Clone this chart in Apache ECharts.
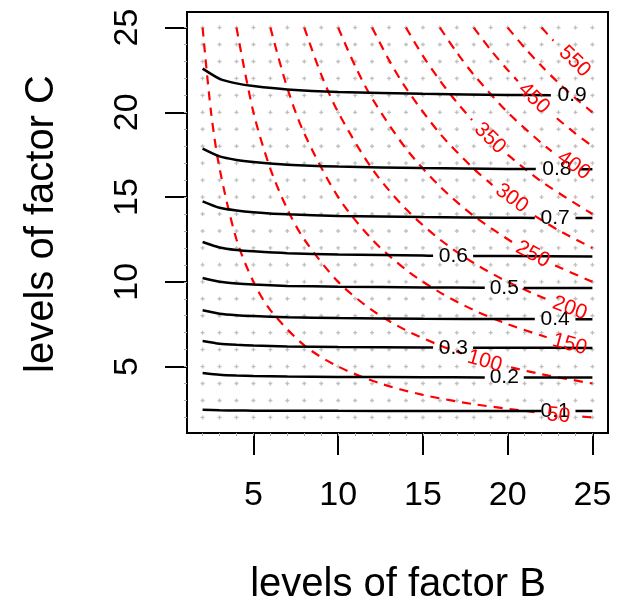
<!DOCTYPE html>
<html>
<head>
<meta charset="UTF-8">
<title>levels of factor B / C</title>
<script src="https://cdn.jsdelivr.net/npm/echarts@6/dist/echarts.min.js"></script>
<style>
  html, body { margin: 0; padding: 0; background: #fff; }
  #main { width: 624px; height: 601px; }
</style>
</head>
<body>
<div id="main"></div>
<script>
// tick labels
var xTicks = [5, 10, 15, 20, 25];
var yTicks = [5, 10, 15, 20, 25];
// design grid (grey dots)
var gridB = [2,3,4,5,6,7,8,9,10,11,12,13,14,15,16,17,18,19,20,21,22,23,24,25];
var gridC = [2,3,4,5,6,7,8,9,10,11,12,13,14,15,16,17,18,19,20,21,22,23,24,25];

// black contours (power), null = label gap
var powerLevels = ['0.1', '0.2', '0.3', '0.4', '0.5', '0.6', '0.7', '0.8', '0.9'];
var p01 = [[2,2.45],[3,2.42],[4,2.41],[5,2.40],[7,2.40],[10,2.39],[15,2.38],[20,2.38],[22.0,2.38],null,[24.0,2.38],[25,2.38]];
var p02 = [[2,4.62],[3,4.52],[4,4.47],[5,4.44],[7,4.41],[10,4.39],[15,4.37],[18.65,4.36],null,[20.95,4.36],[25,4.35]];
var p03 = [[2,6.51],[3,6.35],[4,6.28],[5,6.24],[7,6.19],[10,6.15],[15,6.13],[15.6,6.12],null,[17.96,6.11],[20,6.11],[25,6.10]];
var p04 = [[2,8.32],[3,8.12],[4,8.03],[5,7.98],[7,7.91],[10,7.86],[15,7.82],[20,7.80],[21.6,7.80],null,[24.0,7.79],[25,7.79]];
var p05 = [[2,10.22],[3,10.0],[4,9.9],[5,9.84],[7,9.76],[10,9.71],[15,9.67],[18.65,9.65],null,[20.95,9.64],[25,9.63]];
var p06 = [[2,12.35],[3,12.03],[4,11.88],[5,11.80],[7,11.69],[10,11.61],[15,11.55],[15.6,11.54],null,[17.96,11.53],[20,11.52],[25,11.50]];
var p07 = [[2,14.75],[3,14.37],[4,14.21],[5,14.11],[7,13.98],[10,13.89],[15,13.82],[20,13.78],[21.6,13.77],null,[24.0,13.76],[25,13.76]];
var p08 = [[2,17.86],[3,17.40],[4,17.19],[5,17.07],[7,16.91],[10,16.80],[15,16.71],[20,16.66],[21.66,16.65],null,[24.25,16.64],[25,16.64]];
var p09 = [[2,22.58],[3,21.98],[4,21.71],[5,21.55],[7,21.35],[10,21.2],[15,21.09],[20,21.03],[22.55,21.01]];
var powerLines = [p01, p02, p03, p04, p05, p06, p07, p08, p09];
// where each black label sits [B, C]
var powerLabelPos = [[22.8,2.38],[19.8,4.36],[16.8,6.11],[22.8,7.79],[19.8,9.64],[16.8,11.53],[22.8,13.76],[22.9,16.64],[23.8,21.0]];

// red dashed contours (total size)
var sizeLevels = ['50','100','150','200','250','300','350','400','450','500','550'];
var n50  = [[2,25],[2.5,20],[3,16.7],[4,12.5],[5,10],[6,8.33],[8,6.25],[10,5],[12.5,4],[15,3.33],[18,2.78],[21.7,2.30],null,[24.4,2.05],[25,2]];
var n100 = [[4,25],[5,20],[6,16.67],[7,14.29],[8,12.5],[10,10],[12,8.33],[14,7.14],[16,6.25],[17.3,5.78],null,[20.2,4.95],[22,4.55],[25,4]];
var n150 = [[6,25],[7,21.43],[8,18.75],[10,15],[12,12.5],[14,10.71],[16,9.38],[18,8.33],[20,7.5],[22.3,6.73]];
var n200 = [[8,25],[9,22.22],[10,20],[12,16.67],[14,14.29],[16,12.5],[18,11.11],[20,10],[22.3,8.97]];
var n250 = [[10,25],[11,22.73],[12,20.83],[14,17.86],[16,15.63],[18,13.89],[20.3,12.32],null,[22.8,10.96],[25,10]];
var n300 = [[12,25],[13,23.08],[14,21.43],[16,18.75],[18,16.67],[19.1,15.71],null,[21.6,13.89],[23,13.04],[25,12]];
var n350 = [[14,25],[15,23.33],[16,21.88],[17,20.59],[17.9,19.55],null,[20.0,17.5],[22,15.91],[25,14]];
var n400 = [[16,25],[17,23.53],[18,22.22],[20,20],[22,18.18],[22.6,17.70]];
var n450 = [[18,25],[19,23.68],[20,22.5],[20.6,21.84],null,[22.9,19.65],[24,18.75],[25,18]];
var n500 = [[20,25],[21,23.81],[22,22.73],[23,21.74],[24,20.83],[25,20]];
var n550 = [[22,25],[22.7,24.23]];
var sizeLines = [n50, n100, n150, n200, n250, n300, n350, n400, n450, n500, n550];
// red labels [B, C, angle], null = not shown
var sizeLabelPos = [[23.0,2.12,-5],[18.65,5.31,-16],[23.66,6.31,-15],[23.66,8.44,-20],[21.48,11.62,-28],[20.24,14.93,-36],[18.95,18.47,-44],[23.9,16.87,-35],[21.54,20.83,-44],null,[23.95,23.0,-44]];

var FONT = '"Liberation Sans", Arial, Helvetica, sans-serif';
var myChart = echarts.init(document.getElementById('main'));

var series = [];
var dots = [];
for (var i = 0; i < gridB.length; i++) {
    for (var j = 0; j < gridC.length; j++) {
        dots.push([gridB[i], gridC[j]]);
    }
}
series.push({
    type: 'scatter', data: dots,
    symbol: 'path://M1,0H2V1H3V2H2V3H1V2H0V1H1Z', symbolSize: 4,
    itemStyle: { color: '#b0b0b0' }, silent: true, z: 1
});

for (var k = 0; k < sizeLines.length; k++) {
    series.push({
        type: 'line', data: sizeLines[k], symbol: 'none', smooth: 0.3,
        connectNulls: false, silent: true, z: 2,
        lineStyle: { color: '#ff0000', width: 2.2, type: [9, 7] }
    });
}
for (var m = 0; m < powerLines.length; m++) {
    series.push({
        type: 'line', data: powerLines[m], symbol: 'none', smooth: 0.2,
        connectNulls: false, silent: true, z: 3,
        lineStyle: { color: '#000', width: 2.5 }
    });
}

var blackLabels = [];
for (var a = 0; a < powerLevels.length; a++) {
    blackLabels.push({ value: powerLabelPos[a], name: powerLevels[a] });
}
series.push({
    type: 'scatter', data: blackLabels, symbolSize: 0, silent: true, z: 4,
    itemStyle: { opacity: 1 },
    label: {
        show: true, position: 'inside', formatter: '{b}',
        color: '#000', fontSize: 21, fontFamily: FONT
    }
});
var redLabels = [];
for (var b = 0; b < sizeLevels.length; b++) {
    var p = sizeLabelPos[b];
    if (!p) continue;
    redLabels.push({
        value: [p[0], p[1]], name: sizeLevels[b],
        label: { rotate: p[2] }
    });
}
series.push({
    type: 'scatter', data: redLabels, symbolSize: 0, silent: true, z: 4,
    itemStyle: { opacity: 1 },
    label: {
        show: true, position: 'inside', formatter: '{b}',
        color: '#ff0000', fontSize: 21, fontFamily: FONT
    }
});

var minor = [];
for (var t = 0; t < gridB.length; t++) minor.push(gridB[t]);

option = {
    animation: false,
    backgroundColor: '#fff',
    grid: {
        left: 187, top: 12, width: 421, height: 421,
        show: true, borderColor: '#000', borderWidth: 2, backgroundColor: 'transparent'
    },
    xAxis: [{
        type: 'value', min: 1.08, max: 25.92,
        axisLine: { show: false },
        splitLine: { show: false },
        axisTick: { show: true, customValues: xTicks, length: 22, lineStyle: { color: '#000', width: 2 } },
        axisLabel: { customValues: xTicks, margin: 46, color: '#000', fontSize: 34, fontFamily: FONT }
    }, {
        type: 'value', min: 1.08, max: 25.92, position: 'bottom',
        axisLine: { show: false }, splitLine: { show: false },
        axisLabel: { show: false },
        axisTick: { show: true, customValues: minor, length: 3, lineStyle: { color: '#aaa', width: 1 } }
    }],
    yAxis: [{
        type: 'value', min: 1.08, max: 25.92,
        axisLine: { show: false },
        splitLine: { show: false },
        axisTick: { show: true, customValues: yTicks, length: 22, lineStyle: { color: '#000', width: 2 } },
        axisLabel: { customValues: yTicks, margin: 42, rotate: 90, color: '#000', fontSize: 34, fontFamily: FONT }
    }, {
        type: 'value', min: 1.08, max: 25.92, position: 'left',
        axisLine: { show: false }, splitLine: { show: false },
        axisLabel: { show: false },
        axisTick: { show: true, customValues: gridC, length: 3, lineStyle: { color: '#aaa', width: 1 } }
    }],
    graphic: [{
        type: 'text', x: 398, y: 585,
        style: { text: 'levels of factor B', fill: '#000', font: '40px ' + FONT, align: 'center', verticalAlign: 'middle' }
    }, {
        type: 'text', x: 42, y: 224, rotation: Math.PI / 2,
        style: { text: 'levels of factor C', fill: '#000', font: '40px ' + FONT, align: 'center', verticalAlign: 'middle' }
    }],
    series: series
};
myChart.setOption(option);
</script>
</body>
</html>
